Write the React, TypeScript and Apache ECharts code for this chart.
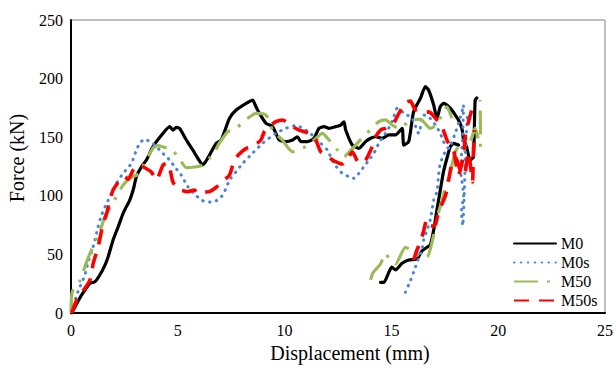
import React, { useEffect, useRef } from "react";
import * as echarts from "echarts";

const seriesNames = ["M0", "M0s", "M50", "M50s"];
const xTicks = [0, 5, 10, 15, 20, 25];
const yTicks = [0, 50, 100, 150, 200, 250];

const m0Part1: [number, number][] = [
  [0.03, 0], [0.19, 5.4], [0.5, 15.4], [0.89, 25.3], [1.12, 26.7], [1.35, 32.4], [1.59, 40.9], [1.74, 48.0],
  [1.97, 62.3], [2.21, 73.6], [2.44, 85.1], [2.75, 96.4], [2.91, 104.9], [3.06, 116.3], [3.3, 124.8], [3.53, 130.5],
  [3.84, 141.9], [4.31, 153.3], [4.62, 159.0], [4.77, 156.1], [4.93, 158.4], [5.08, 157.6], [5.4, 147.6], [5.7, 139.1],
  [5.94, 132.0], [6.17, 126.3], [6.4, 132.0], [6.8, 144.8], [7.03, 147.6], [7.42, 166.1], [7.73, 173.2], [8.2, 178.9],
  [8.5, 181.7], [8.66, 176.0], [8.82, 170.4], [9.13, 161.9], [9.44, 159.0], [9.75, 147.6], [10.06, 146.2], [10.37, 147.6],
  [10.6, 150.4], [10.76, 146.2], [11.07, 146.2], [11.38, 149.1], [11.61, 157.6], [11.85, 159.0], [12.08, 157.6], [12.39, 159.0],
  [12.63, 160.4], [12.78, 163.2], [12.86, 156.1], [13.17, 143.3], [13.48, 140.5], [13.79, 146.2], [14.03, 149.1], [14.26, 150.4],
  [14.57, 149.1], [14.88, 151.9], [15.19, 151.9], [15.5, 157.6], [15.58, 143.3], [15.81, 146.2], [16.04, 171.8], [16.36, 183.2],
  [16.59, 193.1], [16.74, 190.3], [16.98, 177.5], [17.13, 166.1], [17.29, 176.0], [17.44, 178.9], [17.76, 174.7], [17.99, 168.9],
  [18.14, 164.7], [18.3, 157.6], [18.38, 147.6], [18.52, 141.6], [18.69, 130.5], [18.84, 133.1], [18.92, 181.7], [19.0, 183.4],
];
const m0Part2: [number, number][] = [
  [14.49, 26.2], [14.65, 26.2], [14.88, 34.7], [15.02, 39.2], [15.19, 36.7], [15.5, 42.4], [15.81, 45.2], [16.2, 46.1],
  [16.43, 52.9], [16.67, 56.1], [16.82, 58.0], [16.98, 70.8], [17.13, 87.9], [17.29, 104.9], [17.44, 120.6], [17.6, 132.0],
  [17.76, 141.9], [17.91, 144.8], [18.14, 143.3],
];

const m0sPart1: [number, number][] = [
  [0.03, 0.9], [0.27, 15.4], [0.42, 22.4], [0.65, 32.4], [0.81, 43.8], [0.97, 52.3], [1.12, 62.3], [1.27, 73.6],
  [1.43, 83.6], [1.67, 93.6], [1.9, 102.1], [2.13, 110.7], [2.44, 119.2], [2.83, 127.7], [3.06, 139.1], [3.22, 144.8],
  [3.45, 148.5], [3.68, 146.2], [3.92, 143.3], [4.15, 139.1], [4.38, 134.8], [4.62, 130.5], [4.85, 124.8], [5.16, 117.7],
  [5.47, 107.8], [5.78, 101.5], [6.11, 96.4], [6.4, 94.5], [6.8, 95.8], [7.04, 99.2], [7.26, 106.4], [7.42, 113.5],
  [7.73, 120.6], [8.04, 127.7], [8.5, 136.3], [8.97, 144.8], [9.59, 153.3], [10.06, 157.6], [10.53, 160.0], [10.99, 156.1],
  [11.38, 150.4], [11.69, 144.8], [12.0, 139.1], [12.31, 127.7], [12.7, 119.2], [13.01, 116.3], [13.25, 114.9], [13.48, 119.2],
  [13.71, 124.8], [13.95, 130.5], [14.18, 136.3], [14.41, 144.8], [14.72, 153.3], [14.96, 160.4], [15.11, 167.5], [15.27, 174.7],
  [15.58, 170.6], [15.97, 166.1], [16.28, 153.3], [16.51, 168.9], [16.74, 167.5], [17.06, 160.4], [17.29, 153.3], [17.44, 146.2],
  [17.68, 140.5], [17.96, 151.9], [18.22, 166.4], [18.38, 177.5], [18.33, 147.6], [18.24, 122.0], [18.38, 100.7], [18.28, 86.2],
  [18.34, 74.5], [18.42, 104.9], [18.47, 139.1], [18.56, 168.9],
];
const m0sPart2: [number, number][] = [
  [15.66, 17.7], [15.89, 27.6], [16.12, 39.0], [16.28, 46.9], [16.43, 53.8], [16.51, 62.3], [16.67, 70.8], [16.82, 79.4],
  [16.9, 87.9], [16.98, 96.4], [17.13, 103.5], [17.21, 117.7], [17.29, 127.7], [17.52, 137.6], [17.68, 140.5], [17.83, 144.8],
];

const m50Part1: [number, number][] = [
  [0, 0], [0.06, 18.2], [0.42, 27.6], [0.65, 39.5], [0.89, 50.9], [1.12, 59.5], [1.35, 69.4], [1.59, 82.2],
  [1.9, 92.2], [2.21, 102.1], [2.44, 109.2], [2.75, 114.9], [3.22, 119.2], [3.45, 128.8], [3.61, 133.4], [3.84, 140.8],
  [4.07, 142.9], [4.31, 141.6], [4.7, 139.7], [5.08, 131.4], [5.4, 124.0], [5.86, 124.8], [6.17, 126.3], [6.48, 132.0],
  [6.72, 137.6], [6.95, 145.1], [7.34, 154.7], [7.73, 157.6], [8.27, 166.1], [8.66, 170.4], [9.13, 168.9], [9.44, 156.1],
  [9.89, 147.6], [10.37, 137.6], [10.99, 141.9], [11.38, 147.6], [11.77, 153.3], [12.08, 147.6], [12.47, 139.1], [12.78, 133.4],
  [13.11, 139.1], [13.4, 144.8], [13.76, 151.9], [14.1, 157.6], [14.41, 163.2], [14.72, 164.7], [15.03, 160.4], [15.35, 157.6],
  [15.81, 163.2], [15.97, 164.7], [16.36, 165.3], [16.82, 157.6], [17.13, 160.4], [17.35, 168.9], [17.6, 176.0], [17.83, 166.1],
];
const m50Part2: [number, number][] = [
  [14.03, 28.2], [14.13, 34.1], [14.49, 41.8], [14.72, 50.9], [14.88, 46.9], [15.19, 41.8], [15.66, 56.1], [16.04, 52.0],
  [16.32, 48.6], [16.67, 47.8], [16.98, 66.6], [17.21, 86.2], [17.36, 95.0], [17.52, 106.4], [17.68, 114.9], [17.91, 132.0],
  [17.99, 137.6], [18.22, 143.3], [18.38, 139.1], [18.52, 141.9], [18.76, 149.1], [18.92, 157.8], [19.08, 147.6], [19.17, 141.9],
  [19.17, 157.8], [19.15, 181.7],
];

const m50sPart1: [number, number][] = [
  [0.03, 0], [0.34, 13.9], [0.65, 21.1], [0.89, 28.2], [1.04, 42.4], [1.27, 56.6], [1.51, 76.5], [1.67, 85.1],
  [1.82, 96.4], [1.97, 104.9], [2.29, 113.5], [2.52, 116.3], [2.67, 114.1], [2.91, 122.0], [3.14, 126.3], [3.37, 124.8],
  [3.76, 120.3], [4.0, 113.5], [4.31, 126.3], [4.54, 127.7], [4.77, 111.8], [5.0, 105.8], [5.47, 103.5], [5.78, 104.9],
  [5.94, 102.1], [6.25, 103.2], [6.48, 103.5], [6.8, 107.3], [7.18, 113.5], [7.42, 117.7], [7.65, 130.5], [7.88, 135.7],
  [8.2, 140.5], [8.5, 141.9], [8.89, 147.6], [9.05, 154.7], [9.28, 159.0], [9.59, 163.2], [9.9, 164.7], [10.37, 159.0],
  [10.68, 156.1], [11.15, 153.3], [11.46, 147.6], [11.69, 137.6], [12.01, 133.4], [12.39, 129.1], [12.7, 127.1], [13.01, 133.4],
  [13.17, 137.6], [13.48, 128.0], [13.79, 130.5], [14.1, 141.9], [14.26, 150.2], [14.49, 156.1], [14.72, 157.6], [15.03, 160.4],
  [15.19, 164.7], [15.35, 170.4], [15.66, 179.6], [15.89, 180.9], [16.12, 173.2], [16.51, 171.8], [16.82, 171.1], [17.13, 164.7],
  [17.37, 158.7], [17.6, 147.6], [17.76, 141.9], [17.91, 139.1], [18.14, 117.7], [18.38, 134.8], [18.47, 153.6], [18.61, 163.2],
  [18.76, 173.2],
];
const m50sPart2: [number, number][] = [
  [16.04, 45.2], [16.18, 52.9], [16.37, 61.4], [16.51, 70.0], [16.65, 79.4], [16.84, 74.2], [17.02, 74.2], [17.21, 86.2],
  [17.35, 92.2], [17.54, 100.7], [17.68, 113.5], [17.82, 126.3], [18.0, 133.1], [18.19, 123.7], [18.33, 117.7], [18.47, 122.0],
  [18.61, 137.4], [18.7, 126.3], [18.8, 111.8], [18.84, 139.1], [18.89, 156.1],
];

const GAP: any = ["-", "-"];
const join = (a: [number, number][], b: [number, number][]) => [...a, GAP, ...b];

const FONT = '"Liberation Serif", "Times New Roman", serif';

export default function App() {
  const ref = useRef<HTMLDivElement>(null);
  useEffect(() => {
    if (!ref.current) return;
    const chart = echarts.init(ref.current, undefined, { renderer: "svg" });
    const common = { type: "line", showSymbol: false, symbol: "none", smooth: 0.2, connectNulls: false };
    chart.setOption({
      animation: false,
      textStyle: { fontFamily: FONT },
      grid: { left: 71, top: 20, right: 9, bottom: 55, show: true, borderColor: "#7f7f7f", borderWidth: 1, backgroundColor: "transparent" },
      xAxis: {
        type: "value", min: xTicks[0], max: xTicks[xTicks.length - 1], interval: 5,
        axisLine: { show: true, onZero: false, lineStyle: { color: "#000", width: 2 } },
        axisTick: { show: false }, splitLine: { show: false },
        axisLabel: { color: "#000", fontSize: 16, fontFamily: FONT, margin: 9 },
      },
      yAxis: {
        type: "value", min: yTicks[0], max: yTicks[yTicks.length - 1], interval: 50,
        axisLine: { show: true, onZero: false, lineStyle: { color: "#000", width: 2 } },
        axisTick: { show: false }, splitLine: { show: false },
        axisLabel: { color: "#000", fontSize: 16, fontFamily: FONT, margin: 8 },
      },
      legend: {
        orient: "vertical", left: 508, top: 229, itemWidth: 42, itemHeight: 12, itemGap: 0,
        textStyle: { fontSize: 16, fontFamily: FONT, color: "#000", lineHeight: 19 },
        itemStyle: { color: "transparent", borderColor: "transparent", borderWidth: 0, opacity: 0 },
        data: seriesNames,
      },
      graphic: [
        { type: "text", x: 350, y: 353, style: { text: "Displacement (mm)", font: '20px "Liberation Serif"', fill: "#000", textAlign: "center", textVerticalAlign: "middle", verticalAlign: "middle" } },
        { type: "text", x: 17, y: 158, rotation: Math.PI / 2, style: { text: "Force (kN)", font: '20px "Liberation Serif"', fill: "#000", textAlign: "center", textVerticalAlign: "middle", verticalAlign: "middle" } },
      ],
      series: [
        { ...common, name: seriesNames[0], data: join(m0Part1, m0Part2), lineStyle: { color: "#000", width: 3.2, type: "solid", cap: "round", join: "round" }, itemStyle: { color: "#000" } },
        { ...common, name: seriesNames[1], data: join(m0sPart1, m0sPart2), lineStyle: { color: "#4a86d6", width: 3, type: [0.5, 6.4], cap: "round", join: "round" }, itemStyle: { color: "#4a86d6" } },
        { ...common, name: seriesNames[2], data: join(m50Part1, m50Part2), lineStyle: { color: "#9bbb59", width: 3.2, type: [24, 9, 3, 9], cap: "butt", join: "round" }, itemStyle: { color: "#9bbb59" } },
        { ...common, name: seriesNames[3], data: join(m50sPart1, m50sPart2), lineStyle: { color: "#ff0000", width: 3.6, type: [15, 10], cap: "butt", join: "round" }, itemStyle: { color: "#ff0000" } },
      ],
    });
    return () => chart.dispose();
  }, []);
  return <div ref={ref} style={{ position: "fixed", left: 0, top: 0, width: 616, height: 368, background: "#fff" }} />;
}
